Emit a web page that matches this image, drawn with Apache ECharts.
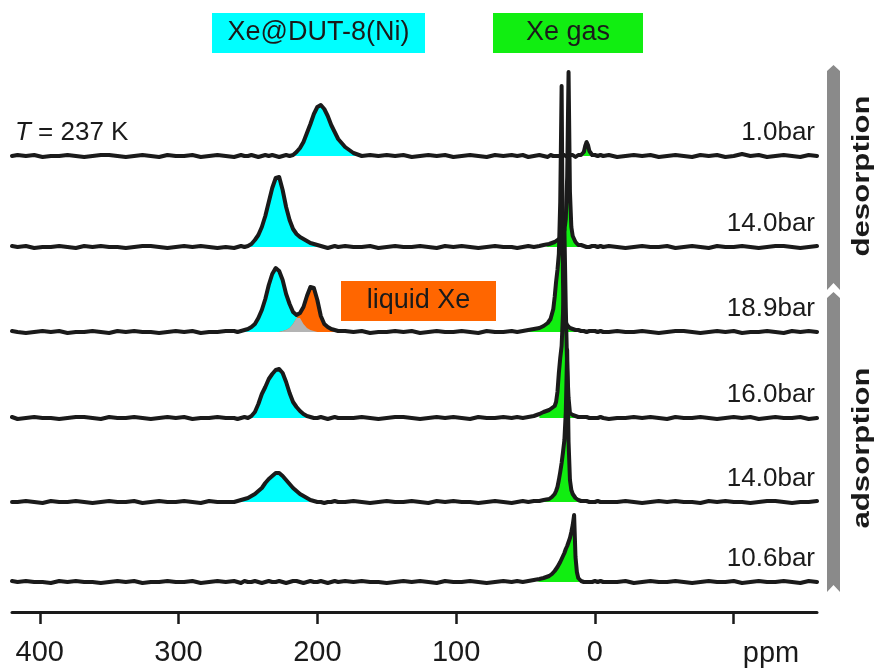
<!DOCTYPE html>
<html><head><meta charset="utf-8">
<script src="https://cdn.jsdelivr.net/npm/echarts@6/dist/echarts.min.js"></script>
<style>html,body{margin:0;padding:0;background:#fff}#c{width:875px;height:670px}</style>
</head><body><div id="c"></div>
<script>
// chemical shift sampling grid (ppm)
const ppmA = [-160,-154,-148,-142,-136,-130,-124,-118,-112,-106,-100,-94,-88,-82,-76,-70,-64,-58,-52,-46,-40,-34,-28,-22,-16,-10];
const ppmB = [-6,-4,-2,0,1,2,3,4,5,6,7,8,9,10,11,12,13,14,15,16,17,18,19,20,21,22,23,24,25,26,27,28,29,30,31,32,33,34,37,40,44,48,52,56,60];
const ppmC = [66,72,78,84,90,96,102,108,114,120,126,132,138,144,150,156,162,168,174,180];
const ppmD = [185,187.5,190,192.5,195,197.5,200,202.5,205,207.5,210,212.5,215,217.5,220,222.5,225,227.5,230,232.5,235,237.5,240,242.5,245,247.5,250,252.5,255,257.5,260];
const ppmE = [266,272,278,284,290,296,302,308,314,320,326,332,338,344,350,356,362,368,374,380,386,392,398,404,410,416,420];

// intensities (segments follow ppmA, ppmB, ppmC, ppmD, ppmE)
const des_1p0 = [
 0,1,-1,0,1,0,-1,1,0,2,0,-1,1,0,1,-1,0,1,0,-1,1,0,1,0,-1,1,
 0,1,0, 1,0,1,2,5,11,14,10,4,2,1,0,1,0,-1,0,1,0,1,0,-1,0,1,0,0,1,0,-1,0,1,0,0,1,0,-1, 0,1,0,-1,1,0,1,
 0,1,-1,0,1,0,-1,1,0,1,0,-1,1,0,1,0,1,0,3,9,
 17,24,31,40,47,51,49,42,32,23,14,8,4,1,0,1,0,-1,0,1,0,1,0,-1,0,1,0,0,1,0,-1,
 0,1,0,-1,1,0,0,1,-1,0,1,0,-1,0,1,1,0,-1,0,1,0,0,-1,1,0,1,0];
const des_14p0 = [
 1,0,-1,0,1,1,0,-1,0,1,0,0,1,-1,0,1,0,-1,1,0,0,1,0,-1,0,1,
 0,1,0, 1,0,1,0,0,1,0,1,1,1,2,2,2,3,5,7,11,20,55,175,70,28,17,13,11,9,8,7,6,5,4,4,3,3,2, 2,1,0,1,0,-1,0,
 0,1,0,-1,0,1,0,1,-1,0,1,0,0,1,0,-1,1,0,0,1,
 0,1,0,-1,0,1,2,3,4,6,8,10,13,18,27,40,57,70,69,59,45,31,20,12,7,3,1,0,1,0,-1,
 0,-1,0,1,0,1,0,-1,0,1,1,0,-1,0,0,1,0,1,-1,0,1,0,0,-1,1,0,1];
const ads_18p9 = [
 0,1,0,1,-1,0,1,0,0,-1,1,0,1,0,-1,0,1,1,0,-1,0,1,0,0,1,0,
 0,1,0, 1,0,1,0,1,1,0,1,1,1,1,2,2,2,2,3,3,3,4,5,7,10,18,50,246,130,78,62,50,35,23,18,13,11,9, 6,4,3,2,1,0,1,
 0,0,1,-1,0,1,0,0,1,0,-1,1,0,1,0,0,-1,1,0,1,
 1,2,3,5,8,16,32,44,45,36,25,19,17,20,28,38,52,61,64,58,47,33,22,14,8,5,3,2,1,0,1,
 1,0,0,-1,1,0,1,0,-1,0,0,1,0,1,-1,0,1,0,0,-1,1,0,1,0,-1,0,1];
const ads_16p0 = [
 0,-1,1,0,0,1,0,-1,1,0,1,0,-1,0,1,0,0,1,-1,0,1,0,1,0,0,-1,
 0,1,0, 0,1,0,1,0,1,1,0,1,0,1,1,1,2,2,2,3,3,5,20,50,110,189,105,72,60,45,26,16,12,11,10,9,8,8, 6,4,2,1,0,1,0,
 1,0,0,1,-1,0,1,0,1,0,-1,0,1,1,0,-1,0,1,0,0,
 0,1,0,-1,0,1,0,0,1,2,4,7,11,16,25,36,45,49,48,44,39,31,24,14,6,2,0,1,0,-1,0,
 0,1,0,0,-1,1,0,1,0,-1,0,1,0,0,1,-1,0,1,1,0,-1,0,0,1,0,-1,1];
const ads_14p0 = [
 1,0,0,-1,0,1,1,0,-1,0,0,1,0,1,-1,0,0,1,0,1,0,-1,0,1,0,0,
 0,0,1, 0,1,0,1,0,1,1,1,1,1,1,2,2,2,4,6,8,12,22,60,152,90,62,50,39,30,22,15,11,8,6,5,4,3,3, 2,1,1,0,1,0,-1,
 0,1,0,-1,0,0,1,0,1,-1,0,1,0,0,1,0,-1,0,1,0,
 0,1,0,0,-1,0,0,1,2,4,6,8,11,14,18,22,26,29,29,26,23,19,14,11,8,6,4,3,2,1,0,
 0,0,1,-1,0,1,0,0,1,0,-1,1,0,0,1,0,-1,0,1,0,0,1,-1,0,1,0,0];
const ads_10p6 = [
 0,1,-1,0,1,0,0,1,0,-1,1,0,0,1,0,-1,0,1,0,0,1,0,-1,1,0,0,
 0,1,0, 1,0,0,1,0,1,0,1,0,1,1,2,4,10,25,67,57,50,44,40,36,33,29,26,23,20,18,15,13,11,10,8,7,6,5, 4,3,2,1,0,1,0,
 1,0,-1,0,1,0,0,1,-1,0,1,0,1,0,-1,0,0,1,0,1,
 0,1,0,-1,0,1,0,0,1,0,-1,0,1,1,0,-1,0,1,0,0,1,0,-1,0,1,0,0,1,-1,0,1,
 0,1,0,-1,1,0,0,1,0,0,-1,1,0,1,0,-1,0,0,1,0,1,-1,0,0,1,0,1];

// deconvoluted components of the 18.9 bar spectrum on ppmD
const comp18p9_pore   = [0,0,0,0,0,0,0,1,2,4,8,14,17,20,28,38,52,61,64,58,47,33,22,14,8,5,3,2,1,0,0];
const comp18p9_liquid = [1,2,3,5,8,16,32,44,45,36,25,19,14,8,4,2,1,0,0,0,0,0,0,0,0,0,0,0,0,0,0];

const pressureLabels = ['1.0bar','14.0bar','18.9bar','16.0bar','14.0bar','10.6bar'];
const spectraOffsets = [456,365,280,194,110,30];
const tickValues = [400,300,200,100,0,-100];
const labelValues = [400,300,200,100,0];
// shaded ranges (ppm) : gas peak and pore peak of each spectrum
const gasRanges  = [[2,10],[11,37],[8,56],[12,40],[12,40],[10,44]];
const poreRanges = [[168,220],[197.5,252.5],null,[205,250],[200,260],null];

const ppm = [].concat(ppmA, ppmB, ppmC, ppmD, ppmE);
const spectra = [des_1p0, des_14p0, ads_18p9, ads_16p0, ads_14p0, ads_10p6];

const FONT = 'Liberation Sans, Arial, Helvetica, sans-serif';
const CYAN = '#00ffff', GREEN = '#11ee11', ORANGE = '#ff6600', GREY = '#b4b4b4';

function fillSeries(xs, ys, off, range, color){
  const d = [];
  xs.forEach((p, j) => { if (!range || (p >= range[0] && p <= range[1])) d.push([p, off + ys[j]]); });
  return {type:'line', data:d, showSymbol:false, silent:true, z:1, animation:false,
    lineStyle:{width:0}, areaStyle:{color:color, opacity:1, origin:off}};
}

const series = [];
spectra.forEach((s, i) => {
  series.push(fillSeries(ppm, s, spectraOffsets[i], gasRanges[i], GREEN));
  if (poreRanges[i]) series.push(fillSeries(ppm, s, spectraOffsets[i], poreRanges[i], CYAN));
});
const overlap = comp18p9_pore.map((v, j) => Math.min(v, comp18p9_liquid[j]));
series.push(fillSeries(ppmD, comp18p9_pore, spectraOffsets[2], null, CYAN));
series.push(fillSeries(ppmD, comp18p9_liquid, spectraOffsets[2], null, ORANGE));
series.push(fillSeries(ppmD, overlap, spectraOffsets[2], null, GREY));
spectra.forEach((s, i) => {
  series.push({type:'line', data: ppm.map((p, j) => [p, spectraOffsets[i] + s[j]]),
    showSymbol:false, silent:true, z:3, animation:false,
    lineStyle:{color:'#1a1a1a', width:4, join:'round', cap:'round'}});
});

const chart = echarts.init(document.getElementById('c'), null, {renderer:'canvas'});
const option = {
  backgroundColor:'#ffffff',
  animation:false,
  grid:{left:12, right:58, top:60, bottom:58},
  xAxis:{type:'value', min:-160, max:420, inverse:true,
    axisLine:{show:true, lineStyle:{color:'#1a1a1a', width:3}},
    axisTick:{show:true, customValues:tickValues, length:12, lineStyle:{color:'#1a1a1a', width:2.5}},
    axisLabel:{customValues:labelValues, fontSize:29, color:'#1a1a1a', margin:26, fontFamily:FONT},
    splitLine:{show:false}},
  yAxis:{type:'value', min:0, max:552, show:false},
  series: series
};
chart.setOption(option);

const g = [];
const txt = (x, y, text, extra) => Object.assign({type:'text', x:x, y:y, silent:true, z:10,
  style:Object.assign({text:text, fill:'#1a1a1a', font:'26px ' + FONT, align:'center', verticalAlign:'middle'}, extra || {})});
pressureLabels.forEach((t, i) => {
  const p = chart.convertToPixel({gridIndex:0}, [-160, spectraOffsets[i]]);
  g.push(txt(p[0] - 2, p[1] - 23, t, {align:'right'}));
});
const tp = chart.convertToPixel({gridIndex:0}, [420, spectraOffsets[0]]);
g.push({type:'text', x:tp[0] + 3, y:tp[1] - 23, silent:true, z:10,
  style:{text:'{i|T} = 237 K', font:'26px ' + FONT, fill:'#1a1a1a', verticalAlign:'middle', align:'left',
    rich:{i:{fontStyle:'italic', fontSize:26, fontFamily:FONT, fill:'#1a1a1a'}}}});
g.push(txt(771, 654, 'ppm', {font:'29px ' + FONT}));
// legend boxes
function box(x, y, w, h, color, text){
  g.push({type:'rect', shape:{x:x, y:y, width:w, height:h}, style:{fill:color}, silent:true, z:9});
  g.push(txt(x + w / 2, y + h / 2, text, {font:'27px ' + FONT}));
}
box(212, 13, 213, 40, CYAN, 'Xe@DUT-8(Ni)');
box(493, 13, 150, 40, GREEN, 'Xe gas');
box(341, 281, 155, 40, ORANGE, 'liquid Xe');
// process arrows
g.push({type:'polygon', shape:{points:[[827,71],[833.5,65],[840,71],[840,290],[833.5,283],[827,290]]}, style:{fill:'#8a8a8a'}, silent:true, z:9});
g.push({type:'polygon', shape:{points:[[827,298],[833.5,292],[840,298],[840,592],[833.5,585],[827,592]]}, style:{fill:'#8a8a8a'}, silent:true, z:9});
g.push({type:'text', x:862, y:176, rotation:Math.PI / 2, scaleX:1.3, silent:true, z:10,
  style:{text:'desorption', font:'bold 24px ' + FONT, fill:'#1a1a1a', align:'center', verticalAlign:'middle'}});
g.push({type:'text', x:862, y:448, rotation:Math.PI / 2, scaleX:1.3, silent:true, z:10,
  style:{text:'adsorption', font:'bold 24px ' + FONT, fill:'#1a1a1a', align:'center', verticalAlign:'middle'}});
chart.setOption({graphic:g});
</script></body></html>
